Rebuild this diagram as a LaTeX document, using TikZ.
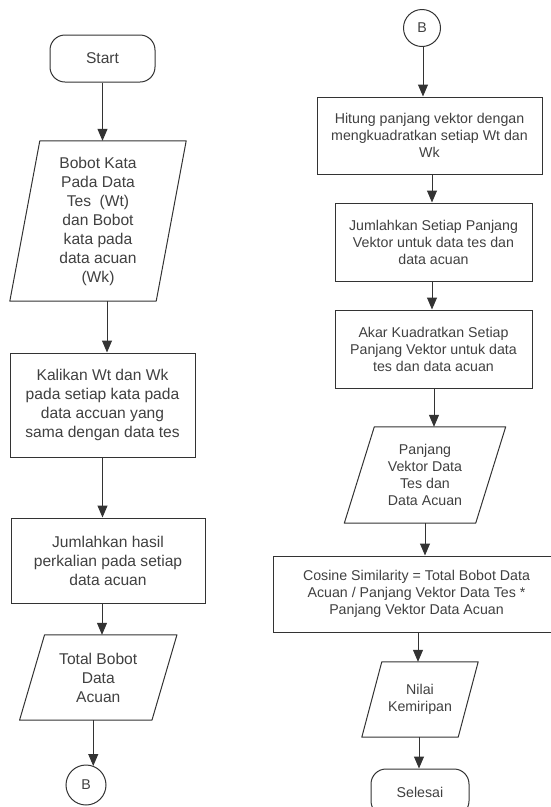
\documentclass[tikz,border=0pt]{standalone}
\usepackage{fontspec}
\setmainfont{Liberation Sans}
\usetikzlibrary{arrows.meta,shapes.geometric}
\definecolor{ln}{HTML}{333333}
\definecolor{tx}{HTML}{404040}
\newcommand{\slantbox}[2]{\draw[ln,line width=1pt,line join=round] ([xshift=#2]#1.north west) -- ([xshift=#2]#1.north east) -- ([xshift=-#2]#1.south east) -- ([xshift=-#2]#1.south west) -- cycle;}
\begin{document}
\begin{tikzpicture}[x=1pt,y=-1pt,
  lfont/.style={font=\fontsize{15.6}{19}\selectfont},
  rfont/.style={font=\fontsize{14.2}{17}\selectfont},
  box/.style={draw=ln, line width=1pt, rectangle, inner sep=0pt, align=center, text=tx},
  term/.style={box, rounded corners=15pt},
  para/.style={rectangle, inner sep=0pt, align=center, text=tx},
  conn/.style={draw=ln, line width=1pt, circle, inner sep=0pt, text=tx},
  arr/.style={draw=ln, line width=1pt, -{Triangle[length=12pt,width=10pt]}}]
\useasboundingbox (0,0) rectangle (550,807);
% left column
\node[term, lfont, minimum width=105pt, minimum height=47pt] (start) at (102.5,58.5) {Start};
\node[para, lfont, minimum width=146pt, minimum height=160pt] (p1) at (98,221) {Bobot Kata\\Pada Data\\Tes\ \ (Wt)\\dan Bobot\\kata pada\\data acuan\\(Wk)};
\slantbox{p1}{15pt}
\node[box, lfont, minimum width=185pt, minimum height=104pt] (r2) at (102.5,405) {Kalikan Wt dan Wk\\pada setiap kata pada\\data accuan yang\\sama dengan data tes};
\node[box, lfont, minimum width=194pt, minimum height=85pt] (r3) at (108,560.5) {Jumlahkan hasil\\perkalian pada setiap\\data acuan};
\node[para, lfont, minimum width=132pt, minimum height=85pt] (p4) at (98.25,677.5) {Total Bobot\\Data\\Acuan};
\slantbox{p4}{12.5pt}
\node[conn, rfont, minimum size=40pt] (b1) at (86,785) {B};
\draw[arr] (start.south) -- (start.south |- p1.north);
\draw[arr] ([xshift=9pt]p1.south) -- ([xshift=9pt]p1.south |- r2.north);
\draw[arr] (r2.south) -- (r2.south |- r3.north);
\draw[arr] ([xshift=-6pt]r3.south) -- ([xshift=-6pt]r3.south |- p4.north);
\draw[arr] ([xshift=-5pt]p4.south) -- ([xshift=-5pt,yshift=-1.5pt]p4.south |- b1.north);
% right column
\node[conn, rfont, minimum size=37pt] (b2) at (422,28) {B};
\node[box, rfont, minimum width=225pt, minimum height=77pt] (r5) at (429.5,135.5) {Hitung panjang vektor dengan\\mengkuadratkan setiap Wt dan\\Wk};
\node[box, rfont, minimum width=197pt, minimum height=78pt] (r6) at (433.5,242) {Jumlahkan Setiap Panjang\\Vektor untuk data tes dan\\data acuan};
\node[box, rfont, minimum width=197pt, minimum height=78pt] (r7) at (433.5,349) {Akar Kuadratkan Setiap\\Panjang Vektor untuk data\\tes dan data acuan};
\node[para, rfont, minimum width=131pt, minimum height=96pt] (p8) at (425,475) {Panjang\\Vektor Data\\Tes dan\\Data Acuan};
\slantbox{p8}{15pt}
\node[box, rfont, minimum width=287pt, minimum height=76pt] (r9) at (416.5,594) {Cosine Similarity = Total Bobot Data\\Acuan / Panjang Vektor Data Tes *\\Panjang Vektor Data Acuan};
\node[para, rfont, minimum width=96pt, minimum height=75pt] (p10) at (420,699.5) {Nilai\\Kemiripan};
\slantbox{p10}{10pt}
\node[term, rfont, minimum width=98pt, minimum height=47pt] (end) at (420,792.5) {Selesai};
\draw[arr] ([xshift=1pt]b2.south) -- ([xshift=1pt]b2.south |- r5.north);
\draw[arr] ([xshift=2.5pt]r5.south) -- ([xshift=2.5pt]r5.south |- r6.north);
\draw[arr] ([xshift=-1.5pt]r6.south) -- ([xshift=-1.5pt]r6.south |- r7.north);
\draw[arr] ([xshift=0.5pt]r7.south) -- ([xshift=0.5pt]r7.south |- p8.north);
\draw[arr] (p8.south) -- (p8.south |- r9.north);
\draw[arr] ([xshift=1.5pt]r9.south) -- ([xshift=1.5pt]r9.south |- p10.north);
\draw[arr] ([xshift=-1pt]p10.south) -- ([xshift=-1pt]p10.south |- end.north);
\end{tikzpicture}
\end{document}
